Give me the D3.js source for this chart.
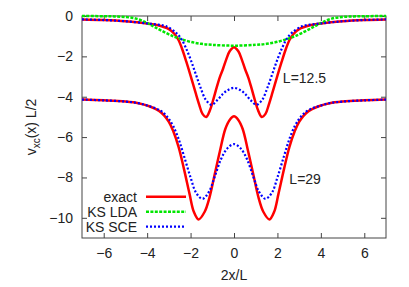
<!DOCTYPE html>
<html>
<head>
<meta charset="utf-8">
<script src="https://cdn.jsdelivr.net/npm/d3@7"></script>
<style>
  body { margin: 0; background: #fff; }
  text { font-family: "Liberation Sans", Arial, sans-serif; }
</style>
</head>
<body>
<div id="chart"></div>
<script>
// values: [2x/L, vxc(x) L/2]
var exact125 = [[-7,-0.17],[-6,-0.2],[-5,-0.26],[-4,-0.37],[-3.5,-0.46],[-3,-0.65],[-2.75,-0.88],[-2.55,-1.2],[-2.4,-1.6],
  [-2.2,-2.25],[-2,-2.95],[-1.77,-3.8],[-1.6,-4.4],[-1.45,-4.85],[-1.28,-5.0],[-1.1,-4.65],[-0.97,-4.2],[-0.8,-3.55],
  [-0.66,-3.05],[-0.5,-2.6],[-0.36,-2.16],[-0.2,-1.75],[0,-1.55],[0.2,-1.75],[0.36,-2.16],[0.5,-2.6],[0.66,-3.05],
  [0.8,-3.55],[0.97,-4.2],[1.1,-4.65],[1.28,-5.0],[1.45,-4.85],[1.6,-4.4],[1.77,-3.8],[2,-2.95],[2.2,-2.25],[2.4,-1.6],
  [2.55,-1.2],[2.75,-0.88],[3,-0.65],[3.5,-0.46],[4,-0.37],[5,-0.26],[6,-0.2],[7,-0.17]];
var lda125 = [[-7,0],[-6,-0.01],[-5.5,-0.02],[-5,-0.05],[-4.5,-0.13],[-4.05,-0.32],[-3.7,-0.52],[-3.3,-0.75],[-2.85,-0.98],
  [-2.5,-1.12],[-2,-1.28],[-1.5,-1.38],[-1,-1.43],[0,-1.47],[1,-1.43],[1.5,-1.38],[2,-1.28],[2.5,-1.12],[2.85,-0.98],
  [3.3,-0.75],[3.7,-0.52],[4.05,-0.32],[4.5,-0.13],[5,-0.05],[5.5,-0.02],[6,-0.01],[7,0]];
var sce125 = [[-7,-0.17],[-6,-0.2],[-5,-0.26],[-4,-0.37],[-3.5,-0.43],[-3.15,-0.5],[-2.7,-0.8],[-2.45,-1.1],[-2.23,-1.55],
  [-2,-2.15],[-1.77,-2.85],[-1.54,-3.55],[-1.3,-4.15],[-1.03,-4.4],[-0.75,-4.15],[-0.5,-3.85],[-0.3,-3.68],[0,-3.56],
  [0.3,-3.68],[0.5,-3.85],[0.75,-4.15],[1.03,-4.4],[1.3,-4.15],[1.54,-3.55],[1.77,-2.85],[2,-2.15],[2.23,-1.55],
  [2.45,-1.1],[2.7,-0.8],[3.15,-0.5],[3.5,-0.43],[4,-0.37],[5,-0.26],[6,-0.2],[7,-0.17]];
var exact29 = [[-7,-4.14],[-6,-4.18],[-5,-4.24],[-4.4,-4.32],[-3.9,-4.47],[-3.45,-4.7],[-3.2,-4.95],[-3,-5.25],[-2.8,-5.7],
  [-2.55,-6.5],[-2.3,-7.6],[-2.05,-8.8],[-1.85,-9.7],[-1.63,-10.08],[-1.35,-9.7],[-1.13,-9.0],[-0.9,-7.9],[-0.65,-6.7],
  [-0.4,-5.6],[-0.2,-5.15],[0,-4.97],[0.2,-5.15],[0.4,-5.6],[0.65,-6.7],[0.9,-7.9],[1.13,-9.0],[1.35,-9.7],[1.63,-10.08],
  [1.85,-9.7],[2.05,-8.8],[2.3,-7.6],[2.55,-6.5],[2.8,-5.7],[3,-5.25],[3.2,-4.95],[3.45,-4.7],[3.9,-4.47],[4.4,-4.32],
  [5,-4.24],[6,-4.18],[7,-4.14]];
var sce29 = [[-7,-4.14],[-6,-4.18],[-5,-4.24],[-4.4,-4.32],[-3.9,-4.47],[-3.45,-4.65],[-3.2,-4.85],[-3,-5.1],[-2.8,-5.45],
  [-2.55,-6.1],[-2.3,-6.95],[-2,-8.0],[-1.75,-8.75],[-1.45,-9.06],[-1.15,-8.7],[-0.9,-8.0],[-0.6,-7.1],[-0.3,-6.55],
  [0,-6.35],[0.3,-6.55],[0.6,-7.1],[0.9,-8.0],[1.15,-8.7],[1.45,-9.06],[1.75,-8.75],[2,-8.0],[2.3,-6.95],[2.55,-6.1],
  [2.8,-5.45],[3,-5.1],[3.2,-4.85],[3.45,-4.65],[3.9,-4.47],[4.4,-4.32],[5,-4.24],[6,-4.18],[7,-4.14]];

var xTicks = [-6, -4, -2, 0, 2, 4, 6];
var yTicks = [0, -2, -4, -6, -8, -10];
var legendNames = ["exact", "KS LDA", "KS SCE"];
var curveLabels = [["L=12.5", 2.25, -3.3], ["L=29", 2.55, -8.3]];

// size settings
var W = 409, H = 287;
var margin = {top: 16, right: 23, bottom: 49, left: 82};
var width = W - margin.left - margin.right,
    height = H - margin.top - margin.bottom;

var svg = d3.select("#chart").append("svg").attr("width", W).attr("height", H);
var g = svg.append("g").attr("transform", "translate(" + margin.left + "," + margin.top + ")");

var x = d3.scaleLinear().domain([-7, 7]).range([0, width]);
var y = d3.scaleLinear().domain([-11, 0]).range([height, 0]);

var axisCol = "#444";

// ticks on all four sides, pointing in
function styleAxis(sel) {
  sel.select(".domain").remove();
  sel.selectAll(".tick line").attr("stroke", axisCol);
  sel.selectAll(".tick text").attr("fill", "#222").style("font-size", "14px");
}
g.append("g").attr("transform", "translate(0," + height + ")")
  .call(d3.axisBottom(x).tickValues(xTicks).tickSizeInner(-5).tickSizeOuter(0).tickPadding(10))
  .call(styleAxis);
g.append("g")
  .call(d3.axisTop(x).tickValues(xTicks).tickSizeInner(-5).tickSizeOuter(0).tickFormat(""))
  .call(styleAxis);
g.append("g")
  .call(d3.axisLeft(y).tickValues(yTicks).tickSizeInner(-5).tickSizeOuter(0).tickPadding(9))
  .call(styleAxis);
g.append("g").attr("transform", "translate(" + width + ",0)")
  .call(d3.axisRight(y).tickValues(yTicks).tickSizeInner(-5).tickSizeOuter(0).tickFormat(""))
  .call(styleAxis);

// legend sample ticks also sit on the bottom axis (frame)
g.append("rect").attr("width", width).attr("height", height)
  .attr("fill", "none").attr("stroke", axisCol).attr("stroke-width", 1);

var line = d3.line()
  .x(function(d) { return x(d[0]); })
  .y(function(d) { return y(d[1]); })
  .curve(d3.curveCatmullRom.alpha(0.5));

var clip = svg.append("clipPath").attr("id", "clip")
  .append("rect").attr("x", 0).attr("y", -2).attr("width", width).attr("height", height + 2);

var styles = [
  {stroke: "#ff0000", dash: null, w: 2.5},
  {stroke: "#00e600", dash: "3,1.4", w: 2.5},
  {stroke: "#0000ff", dash: "2,2", w: 2.2}
];

var plot = g.append("g").attr("clip-path", "url(#clip)");
var series = [[exact125, 0], [exact29, 0], [lda125, 1], [sce125, 2], [sce29, 2]];
series.forEach(function(s) {
  var st = styles[s[1]];
  plot.append("path").datum(s[0])
    .attr("fill", "none")
    .attr("stroke", st.stroke)
    .attr("stroke-width", st.w)
    .attr("stroke-dasharray", st.dash)
    .attr("d", line);
});

// curve labels
curveLabels.forEach(function(c) {
  g.append("text").attr("x", x(c[1])).attr("y", y(c[2]))
    .style("font-size", "14px").attr("fill", "#222").text(c[0]);
});

// legend
var legend = g.append("g").attr("transform", "translate(0," + (196.7 - margin.top) + ")");
legendNames.forEach(function(name, i) {
  var st = styles[i];
  var yy = i * 15;
  legend.append("text").attr("x", 137 - margin.left).attr("y", yy + 5.5)
    .attr("text-anchor", "end").style("font-size", "14px").attr("fill", "#222").text(name);
  legend.append("line").attr("x1", 146 - margin.left).attr("x2", 186 - margin.left)
    .attr("y1", yy).attr("y2", yy)
    .attr("stroke", st.stroke).attr("stroke-width", st.w).attr("stroke-dasharray", st.dash);
});

// axis titles
svg.append("text").attr("x", margin.left + x(0)).attr("y", 280)
  .attr("text-anchor", "middle").style("font-size", "14px").attr("fill", "#222").text("2x/L");

var yt = svg.append("text").attr("transform", "translate(36,127) rotate(-90)")
  .attr("text-anchor", "middle").style("font-size", "14px").attr("fill", "#222");
yt.append("tspan").text("v");
yt.append("tspan").attr("dy", 4).style("font-size", "10px").text("xc");
yt.append("tspan").attr("dy", -4).text("(x) L/2");
</script>
</body>
</html>
